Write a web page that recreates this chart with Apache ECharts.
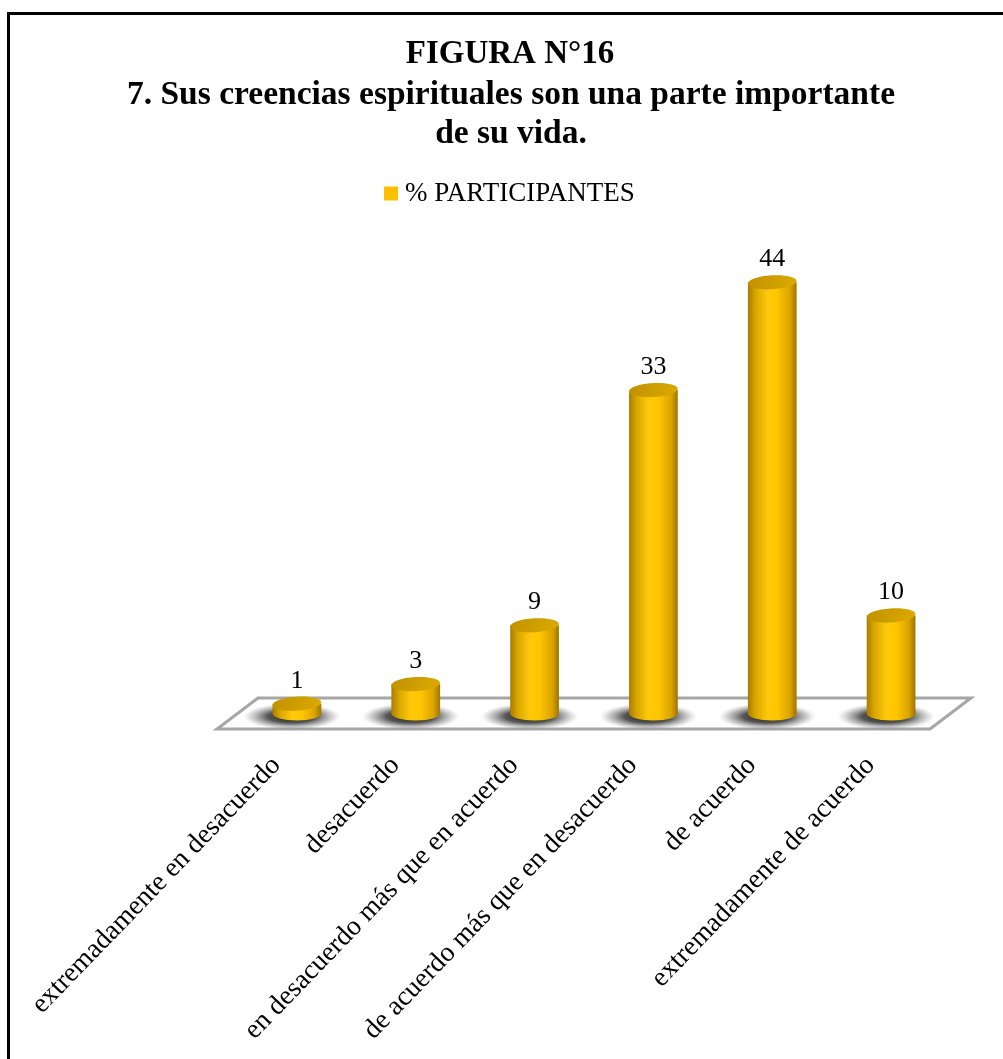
<!DOCTYPE html>
<html>
<head>
<meta charset="utf-8">
<style>
html,body{margin:0;padding:0;background:#fff;}
#chart{width:1003px;height:1059px;}
</style>
<script src="https://cdn.jsdelivr.net/npm/echarts@6/dist/echarts.min.js"></script>
</head>
<body>
<div id="chart"></div>
<script>
const titleMain = 'FIGURA N°16';
const titleSub = ['7. Sus creencias espirituales son una parte importante', 'de su vida.'];
const seriesName = '% PARTICIPANTES';
const categories = [
  'extremadamente en desacuerdo',
  'desacuerdo',
  'en desacuerdo más que en acuerdo',
  'de acuerdo más que en desacuerdo',
  'de acuerdo',
  'extremadamente de acuerdo'
];
const values = [1, 3, 9, 33, 44, 10];

const FONT = '"Liberation Serif", "Times New Roman", serif';
const DEPTH_X = 41, DEPTH_Y = 31; // 3D floor depth (styling)

const chart = echarts.init(document.getElementById('chart'));

function floorItem(params, api) {
  const cs = params.coordSys;
  const x0 = cs.x, x1 = cs.x + cs.width, y = cs.y + cs.height;
  return {
    type: 'polygon',
    shape: { points: [[x0, y], [x1, y], [x1 + DEPTH_X, y - DEPTH_Y], [x0 + DEPTH_X, y - DEPTH_Y]] },
    style: { fill: '#ffffff', stroke: '#a6a6a6', lineWidth: 3, lineJoin: 'miter' }
  };
}

function barItem(params, api) {
  const idx = api.value(0);
  const v = api.value(1);
  const base = api.coord([idx, 0]);
  const top = api.coord([idx, v]);
  const band = api.size([1, 0])[0];
  const rx = band * 0.205;
  const ry = 7;
  const cx = base[0] + DEPTH_X / 2;
  const by = base[1] - DEPTH_Y / 2;
  const ty = top[1] - DEPTH_Y / 2;
  const bodyGrad = new echarts.graphic.LinearGradient(0, 0, 1, 0, [
    { offset: 0, color: '#a87c00' },
    { offset: 0.15, color: '#d6a500' },
    { offset: 0.4, color: '#ffc90a' },
    { offset: 0.6, color: '#ffc600' },
    { offset: 0.86, color: '#dba400' },
    { offset: 1, color: '#9e7600' }
  ]);
  const shadowGrad = new echarts.graphic.RadialGradient(0.5, 0.5, 0.5, [
    { offset: 0, color: 'rgba(10,10,10,0.95)' },
    { offset: 0.5, color: 'rgba(40,40,40,0.78)' },
    { offset: 0.8, color: 'rgba(90,90,90,0.32)' },
    { offset: 1, color: 'rgba(140,140,140,0)' }
  ]);
  const sr = rx * 2.0;
  const scx = cx - 5, scy = by + 3;
  return {
    type: 'group',
    children: [
      {
        type: 'circle',
        shape: { cx: scx, cy: scy, r: sr },
        originX: scx, originY: scy,
        scaleY: 0.27,
        style: { fill: shadowGrad }
      },
      {
        type: 'ellipse',
        shape: { cx: cx, cy: by, rx: rx, ry: ry },
        style: { fill: bodyGrad }
      },
      {
        type: 'rect',
        shape: { x: cx - rx, y: ty, width: rx * 2, height: by - ty },
        style: { fill: bodyGrad }
      },
      {
        type: 'ellipse',
        shape: { cx: cx, cy: ty, rx: rx, ry: ry },
        originX: cx, originY: ty,
        rotation: 0.06,
        style: {
          fill: new echarts.graphic.LinearGradient(0, 0, 1, 1, [
            { offset: 0, color: '#c09200' },
            { offset: 1, color: '#dcaa00' }
          ])
        }
      },
      {
        type: 'text',
        x: cx, y: ty - ry - 3,
        style: {
          text: String(v),
          align: 'center', verticalAlign: 'bottom',
          font: '26px ' + FONT,
          fill: '#000'
        }
      }
    ]
  };
}

chart.setOption({
  backgroundColor: '#ffffff',
  animation: false,
  title: [
    {
      text: titleMain,
      left: 510, textAlign: 'center',
      top: 38, padding: 0,
      textStyle: { fontFamily: FONT, fontWeight: 'bold', fontSize: 33, lineHeight: 33, color: '#000' }
    },
    {
      text: titleSub.join('\n'),
      left: 511, textAlign: 'center',
      top: 76, padding: 0,
      textStyle: { fontFamily: FONT, fontWeight: 'bold', fontSize: 33.5, lineHeight: 39, color: '#000' }
    }
  ],
  legend: {
    data: [{ name: seriesName, icon: 'rect' }],
    left: 384,
    top: 180,
    padding: 0,
    itemWidth: 14,
    itemHeight: 14,
    textStyle: { fontFamily: FONT, fontSize: 27, color: '#000', padding: [0, 0, 0, 2] }
  },
  grid: { left: 217, right: 73, top: 239, bottom: 330, containLabel: false },
  xAxis: {
    type: 'category',
    data: categories,
    axisLine: { show: false },
    axisTick: { show: false },
    axisLabel: { rotate: 46, margin: 32, interval: 0, fontFamily: FONT, fontSize: 27.5, color: '#000' },
    splitLine: { show: false }
  },
  yAxis: {
    type: 'value',
    min: 0, max: 50,
    show: false,
    splitLine: { show: false }
  },
  graphic: [{
    type: 'rect',
    shape: { x: 8.5, y: 13.5, width: 1200, height: 1200 },
    style: { fill: 'none', stroke: '#000', lineWidth: 3 },
    silent: true
  }],
  series: [
    {
      type: 'custom',
      name: 'floor',
      renderItem: floorItem,
      data: [[0, 0]],
      encode: { x: 0, y: 1 },
      z: 1,
      silent: true
    },
    {
      type: 'custom',
      name: seriesName,
      renderItem: barItem,
      data: values.map((v, i) => [i, v]),
      encode: { x: 0, y: 1 },
      itemStyle: { color: '#FFC000' },
      z: 2
    }
  ]
});
</script>
</body>
</html>
